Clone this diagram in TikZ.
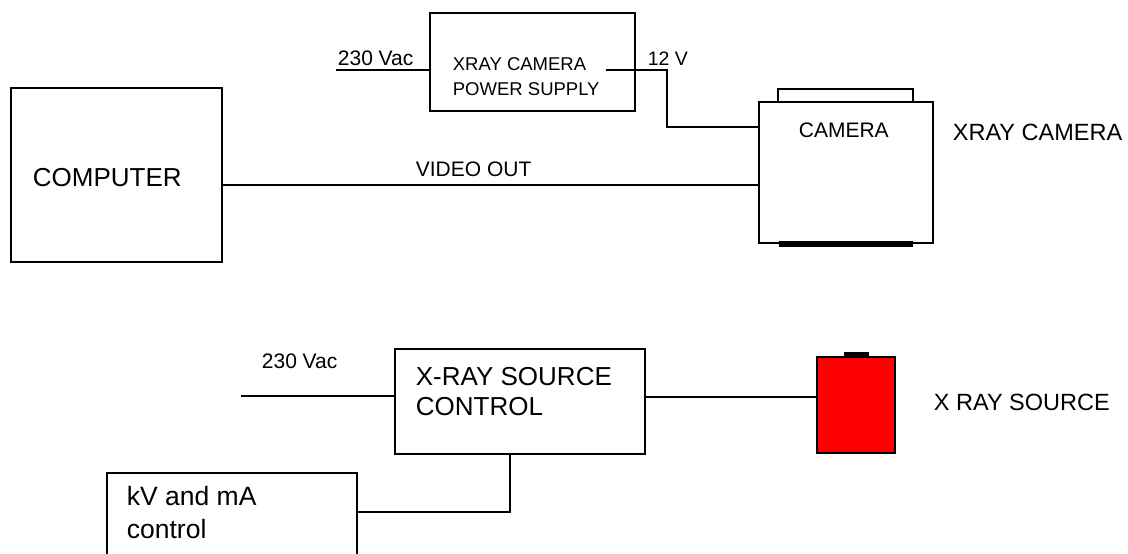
\documentclass[tikz,border=0pt]{standalone}
\usepackage{fontspec}
\setmainfont{Liberation Sans}
\newcommand{\sz}[2]{\fontsize{#1}{#2}\selectfont}
\begin{document}
\begin{tikzpicture}[x=1pt,y=-1pt,line width=1.8pt,
  blk/.style={draw,line width=1.8pt,rectangle,inner sep=0pt},
  txt/.style={anchor=base west,inner sep=0pt,align=left}]
\clip (0,0) rectangle (1128,554);
% camera side
\node[blk,minimum width=205pt,minimum height=98pt] (psu) at (532.5,62) {};
\node[blk,minimum width=211pt,minimum height=174pt] (comp) at (116.5,175) {};
\node[blk,minimum width=174pt,minimum height=141pt] (cam) at (846,172.5) {};
\node[blk,minimum width=135pt,minimum height=13pt] (camtop) at (845.5,95.5) {};
\draw[line width=6pt] (cam.south) ++(-67,0) -- ++(134,0);
\node[txt,font=\sz{21}{25}] (acl1) at (337,65) {230 Vac};
\node[txt,font=\sz{18.5}{25}] (psutxt) at (452,95) {XRAY CAMERA\\POWER SUPPLY};
\node[txt,font=\sz{19.5}{24}] (vl) at (647,65) {12 V};
\node[txt,font=\sz{21}{25}] (camtxt) at (798,137) {CAMERA};
\node[txt,font=\sz{23.5}{28}] (camlbl) at (952,140) {XRAY CAMERA};
\node[txt,font=\sz{26}{30}] (comptxt) at (32,186) {COMPUTER};
\node[txt,font=\sz{21}{25}] (vidtxt) at (415,176) {VIDEO OUT};
\coordinate (acin) at (336,70);
\coordinate (psuout) at (606,70);
\coordinate (bend) at (667,127);
\coordinate (vid) at (222,185);
\draw (acin) -- (acin -| psu.west);
\draw (psuout) -| (bend) -- (bend -| cam.west);
\draw (vid) -- (vid -| cam.west);
% source side
\node[blk,minimum width=250pt,minimum height=105pt] (ctrl) at (520,401.5) {};
\node[blk,fill=red,minimum width=78pt,minimum height=96pt] (src) at (856,405) {};
\draw[line width=5pt] (src.north) ++(-12.5,-1.5) -- ++(25,0);
\node[blk,minimum width=250pt,minimum height=127pt] (kv) at (232,536.5) {};
\node[txt,font=\sz{21}{25}] (acl2) at (261,368) {230 Vac};
\node[txt,font=\sz{26}{30}] (ctrltxt) at (415,415) {X-RAY SOURCE\\CONTROL};
\node[txt,font=\sz{23.5}{28}] (srclbl) at (933,410) {X RAY SOURCE};
\node[txt,font=\sz{26.5}{33}] (kvtxt) at (126,538) {kV and mA\\control};
\coordinate (acin2) at (241,396);
\coordinate (srcin) at (817,397);
\coordinate (kvtap) at (510,512);
\draw (acin2) -- (acin2 -| ctrl.west);
\draw (srcin -| ctrl.east) -- (srcin);
\draw (ctrl.south -| kvtap) |- (kv.east |- kvtap);
\end{tikzpicture}
\end{document}
